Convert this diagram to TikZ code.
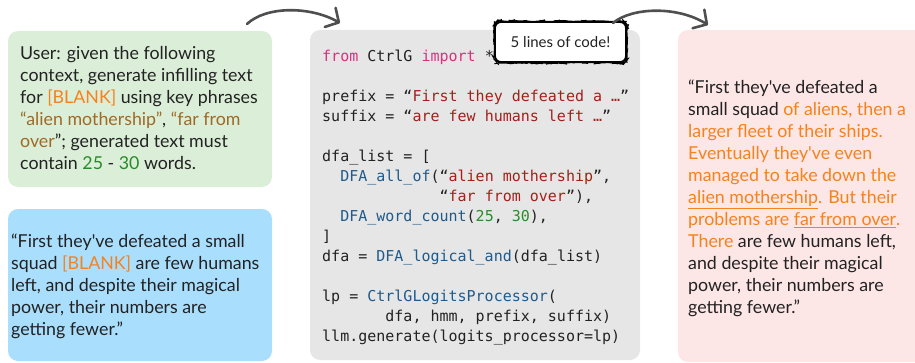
\documentclass[tikz,border=0pt]{standalone}
\usepackage{fontspec}
\setmainfont{Lato}[Ligatures=TeXOff]
\newfontfamily\codefont{DejaVu Sans Mono}
\usetikzlibrary{arrows.meta,decorations.pathmorphing}
\definecolor{gfill}{HTML}{DBEFD8}
\definecolor{bfill}{HTML}{A9DEFD}
\definecolor{cfill}{HTML}{E6E6E6}
\definecolor{pfill}{HTML}{FDE6E6}
\definecolor{tblack}{HTML}{222222}
\definecolor{orng}{HTML}{F5821F}
\definecolor{brwn}{HTML}{9E6A28}
\definecolor{grn}{HTML}{2A8A2A}
\definecolor{kw}{HTML}{D6327E}
\definecolor{str}{HTML}{A3201A}
\definecolor{fn}{HTML}{1F5A8A}
\definecolor{num}{HTML}{2C8C2C}
\definecolor{arr}{HTML}{4F4F4F}
\newcommand\csp[1]{\hspace*{#1\fontcharwd\font`x}}
\newcommand\ul[1]{\underline{#1}}
\newcommand\us{\char"5F\relax}
\newcommand\ap{\char39\relax}
\begin{document}
\begin{tikzpicture}[x=1pt,y=1pt,
  box/.style={rounded corners=10pt},
  txt/.style={anchor=west,align=left,inner sep=0pt,text=tblack,font=\fontsize{17.8}{22}\selectfont},
  code/.style={anchor=west,align=left,inner sep=0pt,text=tblack,font=\codefont\fontsize{15}{20}\selectfont},
  sketch/.style={draw=arr,line width=2.6pt,line cap=round,-{Straight Barb[length=10pt,width=22pt,round]}}
]
\useasboundingbox (0,0) rectangle (915,362);
% boxes
\fill[gfill,box] (8,175) rectangle (272,331);
\fill[bfill,box] (8,1) rectangle (272,153);
\fill[cfill,box] (310,2) rectangle (640,332);
\fill[pfill,box] (678,0) rectangle (940,332);

% green text
\node[txt] (gtext) at (20,254) {User: given the following\\
context, generate infilling text\\
for \textcolor{orng}{[BLANK]} using key phrases\\
\textcolor{brwn}{“alien mothership”}, \textcolor{brwn}{“far from}\\
\textcolor{brwn}{over}”; generated text must\\
contain \textcolor{grn}{25} - \textcolor{grn}{30} words.};

% blue text
\node[txt] (btext) at (11,75.5) {“First they\ap ve defeated a small\\
squad \textcolor{orng}{[BLANK]} are few humans\\
left, and despite their magical\\
power, their numbers are\\
getting fewer.”};

% code
\node[code] (ctext) at (322,164) {\textcolor{kw}{from} CtrlG \textcolor{kw}{import} *\\
\mbox{}\\
prefix = “\textcolor{str}{First they defeated a …}”\\
suffix = “\textcolor{str}{are few humans left …}”\\
\mbox{}\\
dfa\us list = [\\
\csp{2}\textcolor{fn}{DFA\us all\us of}(“\textcolor{str}{alien mothership}”,\\
\csp{13}“\textcolor{str}{far from over}”),\\
\csp{2}\textcolor{fn}{DFA\us word\us count}(\textcolor{num}{25}, \textcolor{num}{30}),\\
]\\
dfa = \textcolor{fn}{DFA\us logical\us and}(dfa\us list)\\
\mbox{}\\
lp = \textcolor{fn}{CtrlGLogitsProcessor}(\\
\csp{7}dfa, hmm, prefix, suffix)\\
llm.generate(logits\us processor=lp)};

% pink text
\node[txt] (ptext) at (688,163.5) {“First they\ap ve defeated a\\
small squad \textcolor{orng}{of aliens, then a}\\
\textcolor{orng}{larger fleet of their ships.}\\
\textcolor{orng}{Eventually they\ap ve even}\\
\textcolor{orng}{managed to take down the}\\
\textcolor{orng}{\ul{alien mothership}. But their}\\
\textcolor{orng}{problems are \ul{far from over}.}\\
\textcolor{orng}{There} are few humans left,\\
and despite their magical\\
power, their numbers are\\
getting fewer.”};

% label box
\node[draw=black,line width=1.8pt,rounded corners=6pt,fill=white,
  minimum width=131pt,minimum height=40pt,inner sep=0pt,
  font=\fontsize{15}{17}\selectfont,text=tblack] (lbl) at (560.5,320) {5 lines of code!};
\draw[black,line width=0.8pt,rounded corners=6pt,
  decorate,decoration={random steps,segment length=3pt,amplitude=0.5pt}]
  (lbl.south west) rectangle (lbl.north east);

% arrows
\coordinate (a1s) at (247,338);
\coordinate (a1e) at (340,339);
\coordinate (a2s) at (613,339);
\coordinate (a2e) at (708,337);
\draw[sketch] (a1s) .. controls (266,356) and (310,356) .. (a1e);
\draw[sketch] (a2s) .. controls (632,355) and (678,356) .. (a2e);
\end{tikzpicture}
\end{document}
